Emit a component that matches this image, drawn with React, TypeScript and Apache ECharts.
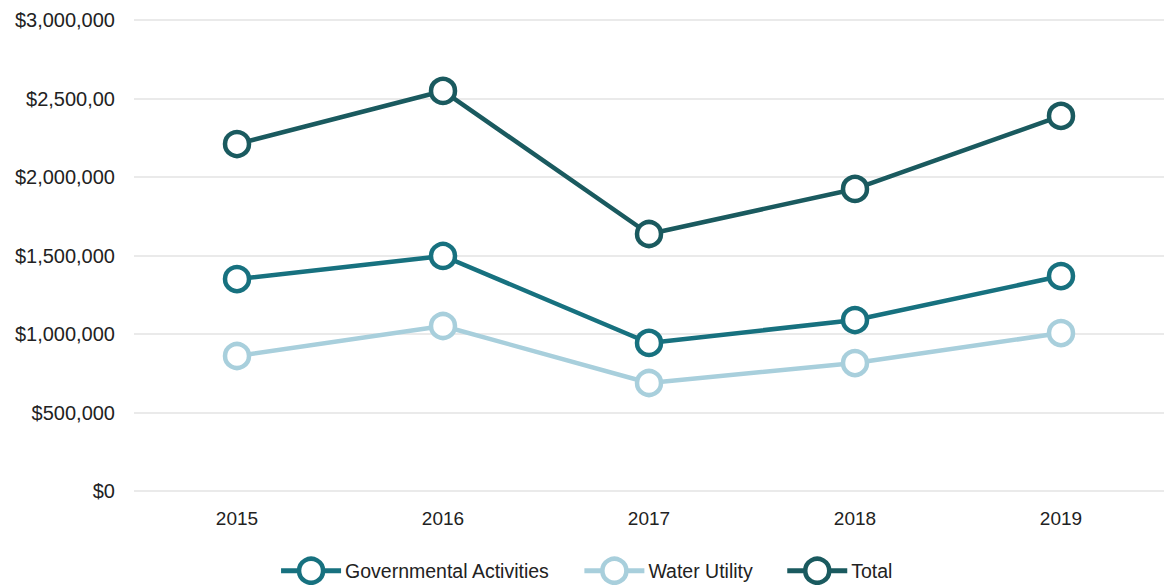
import React, { useEffect, useRef } from "react";
import * as echarts from "echarts";

const years = ["2015", "2016", "2017", "2018", "2019"];
const governmental = [1350000, 1497000, 943000, 1089000, 1369000];
const waterUtility = [860000, 1051000, 688000, 815000, 1006000];
const total = [2210000, 2548000, 1637000, 1924000, 2389000];
const yTickLabels = ["$0", "$500,000", "$1,000,000", "$1,500,000", "$2,000,000", "$2,500,00", "$3,000,000"];

const FONT = "Liberation Sans, Arial, sans-serif";

export default function App() {
  const ref = useRef<HTMLDivElement>(null);
  useEffect(() => {
    document.body.style.margin = "0";
    const chart = echarts.init(ref.current!, null, { renderer: "svg" });
    const mk = (name: string, data: number[], color: string) => ({
      name,
      type: "line",
      data,
      symbol: "circle",
      symbolSize: 24,
      showAllSymbol: true,
      lineStyle: { color, width: 4.5 },
      itemStyle: { color: "#ffffff", borderColor: color, borderWidth: 4.5 },
      emphasis: { disabled: true },
    });
    chart.setOption({
      animation: false,
      backgroundColor: "#ffffff",
      textStyle: { fontFamily: FONT },
      grid: { left: 134, right: 7, top: 20, bottom: 94, containLabel: false },
      xAxis: {
        type: "category",
        data: years,
        boundaryGap: true,
        axisLine: { show: false },
        axisTick: { show: false },
        axisLabel: { color: "#222", fontSize: 19, margin: 18, fontFamily: FONT },
      },
      yAxis: {
        type: "value",
        min: 0,
        max: 3000000,
        interval: 500000,
        axisLine: { show: false },
        axisTick: { show: false },
        splitLine: { lineStyle: { color: "#e3e3e3", width: 1.5 } },
        axisLabel: {
          color: "#222",
          fontSize: 20,
          margin: 19,
          fontFamily: FONT,
          formatter: (v: number) => yTickLabels[Math.round(v / 500000)] ?? "",
        },
      },
      legend: {
        bottom: -5,
        left: "center",
        itemWidth: 60,
        itemHeight: 30,
        itemGap: 32,
        lineStyle: { width: 5 },
        itemStyle: { borderWidth: 4.5 },
        textStyle: { color: "#222", fontSize: 19.5, fontFamily: FONT, padding: [0, 0, 0, -1] },
        data: ["Governmental Activities", "Water Utility", "Total"],
      },
      series: [
        mk("Governmental Activities", governmental, "#17717f"),
        mk("Water Utility", waterUtility, "#a8cfdc"),
        mk("Total", total, "#1a5a5f"),
      ],
    });
    return () => chart.dispose();
  }, []);
  return <div ref={ref} style={{ width: 1171, height: 585 }} />;
}
